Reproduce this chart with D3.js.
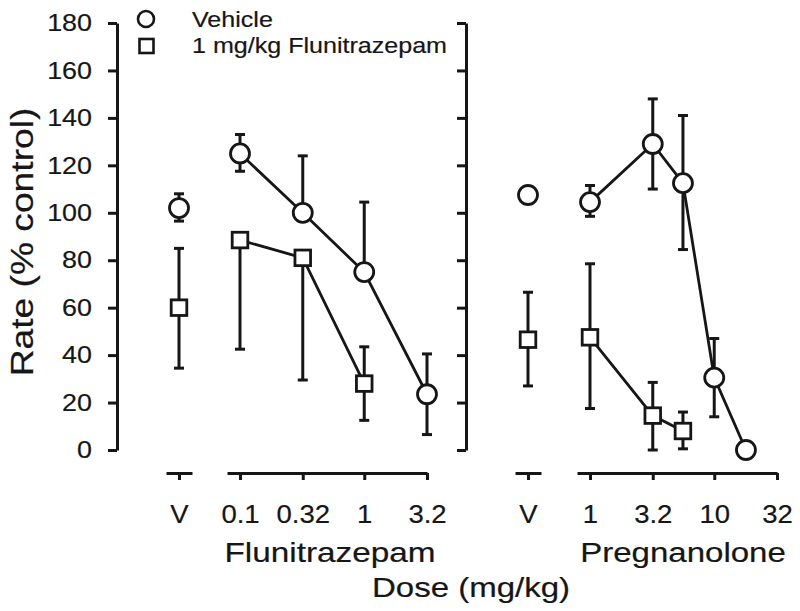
<!DOCTYPE html>
<html><head><meta charset="utf-8">
<script src="https://cdn.jsdelivr.net/npm/d3@7"></script>
<style>
body{margin:0;background:#fff}
text{font-family:"Liberation Sans",Arial,Helvetica,sans-serif;fill:#161616;stroke:#161616;stroke-width:0.2px}
</style>
</head><body><svg id="c" width="800" height="611"></svg>
<script>
// ---------- DATA ----------
const yTicks = [0, 20, 40, 60, 80, 100, 120, 140, 160, 180];
const fluTickVals = [0.1, 0.32, 1, 3.2];
const fluTickLabels = ["0.1", "0.32", "1", "3.2"];
const pregTickVals = [1, 3.2, 10, 32];
const pregTickLabels = ["1", "3.2", "10", "32"];

// Flunitrazepam panel
const fluVehV = {mean: 102, up: 108, down: 96.5};
const fluFluV = {mean: 60, up: 85, down: 34.5};
const fluDoses = [0.1, 0.32, 1, 3.2];
const fluVehMean = [125, 100, 75, 23.5];
const fluVehUp = [133, 124, 104.5, 40.5];
const fluVehDown = [117.5, null, null, 6.5];
const fluFluDoses = [0.1, 0.32, 1];
const fluFluMean = [88.5, 81, 28];
const fluFluUp = [null, null, 43.5];
const fluFluDown = [42.5, 29.5, 12.5];

// Pregnanolone panel
const pregVehV = {mean: 107.5, up: null, down: null};
const pregFluV = {mean: 46.5, up: 66.5, down: 27};
const pregDoses = [1, 3.2, 5.6, 10, 18];
const pregVehMean = [104.5, 129, 112.5, 30.5, 0];
const pregVehUp = [111.5, 148, 141, 47, null];
const pregVehDown = [98.5, 110, 84.5, 14, null];
const pregFluDoses = [1, 3.2, 5.6];
const pregFluMean = [47.5, 14.5, 8];
const pregFluUp = [78.5, 28.5, 16];
const pregFluDown = [17.5, 0, 0.5];

const legendLabels = ["Vehicle", "1 mg/kg Flunitrazepam"];

// ---------- DRAW ----------
const INK = "#161616";
const svg = d3.select("#c");

const y = d3.scaleLinear().domain([0, 180]).range([450, 23]);
const xFV = d3.scalePoint().domain(["V"]).range([166, 192]);
const xF = d3.scaleLog().domain([0.1, 3.2]).range([240, 427]);
const xPV = d3.scalePoint().domain(["V"]).range([515, 541]);
const xP = d3.scaleLog().domain([1, 32]).range([590, 777]);

function styleAxis(g, sw) {
  g.selectAll("path.domain").attr("stroke", INK).attr("stroke-width", sw);
  g.selectAll(".tick line").attr("stroke", INK).attr("stroke-width", sw);
}

// Left y axis
const gL = svg.append("g").attr("transform", "translate(117,0)")
  .call(d3.axisLeft(y).tickValues(yTicks).tickSize(9).tickSizeOuter(0).tickFormat(d3.format("d")));
styleAxis(gL, 3);
gL.selectAll(".tick text").attr("x", 0).attr("font-size", 24).attr("fill", INK)
  .attr("font-family", null)
  .attr("transform", "translate(-25,0) scale(1.12,1)");

// Right y axis (no labels)
const gR = svg.append("g").attr("transform", "translate(466,0)")
  .call(d3.axisLeft(y).tickValues(yTicks).tickSize(9).tickSizeOuter(0).tickFormat(""));
styleAxis(gR, 3);

// Bottom axes
function bottomAxis(scale, vals, labels) {
  const g = svg.append("g").attr("transform", "translate(0,473)")
    .call(d3.axisBottom(scale).tickValues(vals).tickSize(7).tickSizeOuter(0)
      .tickPadding(25).tickFormat((d, i) => labels[i]));
  styleAxis(g, 3);
  g.selectAll(".tick text").attr("font-size", 25).attr("fill", INK)
    .attr("font-family", null).attr("transform", "scale(1.1,1)");
  return g;
}
bottomAxis(xFV, ["V"], ["V"]);
bottomAxis(xF.copy().domain([xF.invert(227), 3.2]).range([227, 427]), fluTickVals, fluTickLabels);
bottomAxis(xPV, ["V"], ["V"]);
bottomAxis(xP.copy().domain([xP.invert(577), 32]).range([577, 777]), pregTickVals, pregTickLabels);

// Series drawing
const plot = svg.append("g");
const lineLayer = plot.append("g");
const errLayer = plot.append("g");
const markLayer = plot.append("g");
const CAP = 5;

function errBars(px, mean, up, down) {
  [up, down].forEach(e => {
    if (e === null || e === undefined) return;
    errLayer.append("line").attr("x1", px).attr("x2", px)
      .attr("y1", y(mean)).attr("y2", y(e))
      .attr("stroke", INK).attr("stroke-width", 3);
    errLayer.append("line").attr("x1", px - CAP).attr("x2", px + CAP)
      .attr("y1", y(e)).attr("y2", y(e))
      .attr("stroke", INK).attr("stroke-width", 3);
  });
}
function marker(px, py, shape) {
  if (shape === "circle") {
    markLayer.append("circle").attr("cx", px).attr("cy", py).attr("r", 9.5)
      .attr("fill", "#fff").attr("stroke", INK).attr("stroke-width", 2.8);
  } else {
    markLayer.append("rect").attr("x", px - 7.8).attr("y", py - 7.8)
      .attr("width", 15.6).attr("height", 15.6)
      .attr("fill", "#fff").attr("stroke", INK).attr("stroke-width", 2.8);
  }
}
function series(xs, doses, mean, up, down, shape) {
  const pts = doses.map((d, i) => [xs(d), y(mean[i])]);
  lineLayer.append("path").attr("d", d3.line()(pts))
    .attr("fill", "none").attr("stroke", INK).attr("stroke-width", 2.8);
  doses.forEach((d, i) => errBars(xs(d), mean[i], up[i], down[i]));
  pts.forEach(p => marker(p[0], p[1], shape));
}
function single(xs, v, shape) {
  errBars(xs("V"), v.mean, v.up, v.down);
  marker(xs("V"), y(v.mean), shape);
}

single(xFV, fluVehV, "circle");
single(xFV, fluFluV, "square");
series(xF, fluDoses, fluVehMean, fluVehUp, fluVehDown, "circle");
series(xF, fluFluDoses, fluFluMean, fluFluUp, fluFluDown, "square");
single(xPV, pregVehV, "circle");
single(xPV, pregFluV, "square");
series(xP, pregDoses, pregVehMean, pregVehUp, pregVehDown, "circle");
series(xP, pregFluDoses, pregFluMean, pregFluUp, pregFluDown, "square");

// Text helper
function label(txt, x, yy, size, sx, anchor, rot) {
  const g = svg.append("g").attr("transform", `translate(${x},${yy})` + (rot ? ` rotate(${rot})` : ""));
  g.append("text").text(txt).attr("font-size", size).attr("text-anchor", anchor)
    .attr("transform", `scale(${sx},1)`);
}

// Legend
const leg = svg.append("g");
leg.append("circle").attr("cx", 146).attr("cy", 19).attr("r", 8)
  .attr("fill", "#fff").attr("stroke", INK).attr("stroke-width", 2.6);
leg.append("rect").attr("x", 139.5).attr("y", 39).attr("width", 14).attr("height", 14)
  .attr("fill", "#fff").attr("stroke", INK).attr("stroke-width", 2.6);
label(legendLabels[0], 192, 27, 22, 1.14, "start");
label(legendLabels[1], 192, 53, 22, 1.14, "start");

// Axis titles
label("Flunitrazepam", 330, 562, 28, 1.19, "middle");
label("Pregnanolone", 683, 562, 28, 1.18, "middle");
label("Dose (mg/kg)", 471, 597, 28, 1.18, "middle");
label("Rate (% control)", 33, 242, 31, 1.2, "middle", -90);
</script></body></html>
